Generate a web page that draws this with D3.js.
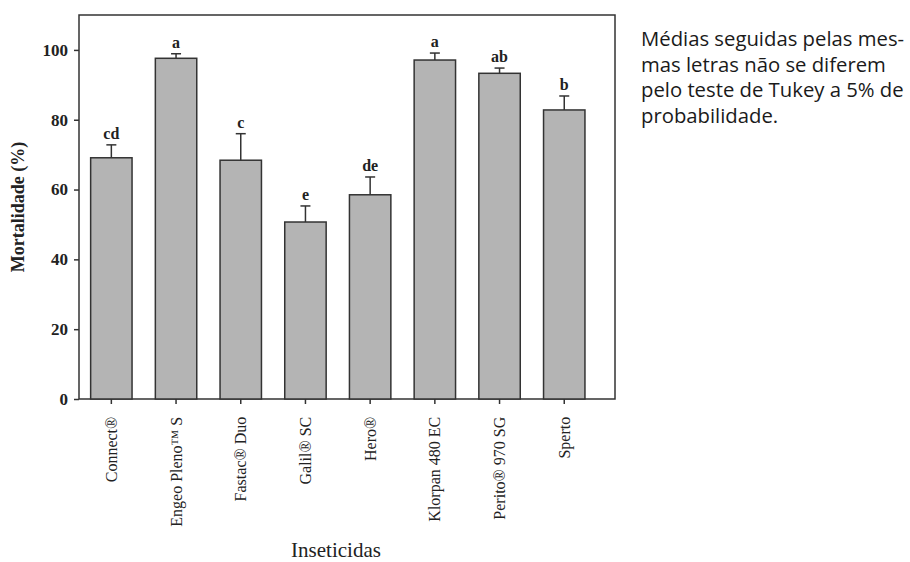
<!DOCTYPE html>
<html>
<head>
<meta charset="utf-8">
<script src="https://cdn.jsdelivr.net/npm/d3@7"></script>
<style>
  html, body { margin: 0; padding: 0; background: #fff; }
  svg { display: block; }
</style>
</head>
<body>
<svg id="chart" width="910" height="562"></svg>
<script>
// Mortalidade média (%) por inseticida, com erro padrão e letras de Tukey
const categories = ["Connect®", "Engeo Pleno™ S", "Fastac® Duo", "Galil® SC", "Hero®", "Klorpan 480 EC", "Perito® 970 SG", "Sperto"];
const means = [69.1, 97.6, 68.4, 50.7, 58.5, 97.1, 93.3, 82.8];
const errors = [3.7, 1.3, 7.6, 4.6, 5.1, 2.0, 1.5, 4.0];
const letters = ["cd", "a", "c", "e", "de", "a", "ab", "b"];
const yTicks = [0, 20, 40, 60, 80, 100];
const note = ["Médias seguidas pelas mes-", "mas letras não se diferem", "pelo teste de Tukey a 5% de", "probabilidade."];

const svg = d3.select("#chart");
const plotLeft = 79, plotRight = 615, plotTop = 15, plotBottom = 399;
const serif = "'Liberation Serif', 'Times New Roman', serif";
const ink = "#333";

const x = d3.scaleBand()
  .domain(categories)
  .range([plotLeft, plotLeft + 8 * 64.7])
  .paddingInner(0.36)
  .paddingOuter(0.18);

const y = d3.scaleLinear().domain([0, 110]).range([plotBottom, plotTop]);

// Frame
svg.append("rect")
  .attr("x", plotLeft).attr("y", plotTop)
  .attr("width", plotRight - plotLeft).attr("height", plotBottom - plotTop)
  .attr("fill", "none").attr("stroke", ink).attr("stroke-width", 1.5);

// Bars
const data = categories.map((c, i) => ({ c, m: means[i], e: errors[i], l: letters[i] }));
svg.append("g").selectAll("rect").data(data).join("rect")
  .attr("x", d => x(d.c))
  .attr("y", d => y(d.m))
  .attr("width", x.bandwidth())
  .attr("height", d => y(0) - y(d.m))
  .attr("fill", "#b4b4b4")
  .attr("stroke", ink)
  .attr("stroke-width", 1.5);

// Error bars (upper half)
const eb = svg.append("g").attr("stroke", ink).attr("stroke-width", 1.5);
data.forEach(d => {
  const cx = x(d.c) + x.bandwidth() / 2;
  eb.append("line").attr("x1", cx).attr("x2", cx).attr("y1", y(d.m)).attr("y2", y(d.m + d.e));
  eb.append("line").attr("x1", cx - 5).attr("x2", cx + 5).attr("y1", y(d.m + d.e)).attr("y2", y(d.m + d.e));
});

// Tukey letters
svg.append("g").selectAll("text").data(data).join("text")
  .attr("x", d => x(d.c) + x.bandwidth() / 2)
  .attr("y", d => y(d.m + d.e) - 6)
  .attr("text-anchor", "middle")
  .attr("font-family", serif)
  .attr("font-size", 16)
  .attr("font-weight", "bold")
  .attr("fill", "#222")
  .text(d => d.l);

// Y axis
const yAxis = svg.append("g")
  .attr("transform", `translate(${plotLeft},0)`)
  .call(d3.axisLeft(y).tickValues(yTicks).tickSize(5).tickPadding(6).tickSizeOuter(0));
yAxis.select(".domain").remove();
yAxis.selectAll("line").attr("stroke", ink).attr("stroke-width", 1.5);
yAxis.selectAll("text")
  .attr("font-family", serif).attr("font-size", 17).attr("font-weight", "bold").attr("fill", "#222");

// X axis
const xAxis = svg.append("g")
  .attr("transform", `translate(0,${plotBottom})`)
  .call(d3.axisBottom(x).tickSize(5).tickSizeOuter(0));
xAxis.select(".domain").remove();
xAxis.selectAll("line").attr("stroke", ink).attr("stroke-width", 1.5);
xAxis.selectAll("text")
  .attr("font-family", serif).attr("font-size", 16).attr("fill", "#222")
  .attr("transform", "rotate(-90)")
  .attr("text-anchor", "end")
  .attr("dx", "-0.55em")
  .attr("dy", "0.35em")
  .attr("x", -9).attr("y", 0);

// Axis titles
svg.append("text")
  .attr("transform", `translate(24,${(plotTop + plotBottom) / 2}) rotate(-90)`)
  .attr("text-anchor", "middle")
  .attr("font-family", serif).attr("font-size", 18).attr("font-weight", "bold").attr("fill", "#222")
  .text("Mortalidade (%)");

svg.append("text")
  .attr("x", 336).attr("y", 557)
  .attr("text-anchor", "middle")
  .attr("font-family", serif).attr("font-size", 21).attr("fill", "#222")
  .text("Inseticidas");

// Side note
svg.append("g").selectAll("text").data(note).join("text")
  .attr("x", 641)
  .attr("y", (d, i) => 46 + i * 25.5)
  .attr("font-family", "'Open Sans', 'Noto Sans', sans-serif")
  .attr("font-size", 20.3)
  .attr("fill", "#1a1a1a")
  .text(d => d);
</script>
</body>
</html>
